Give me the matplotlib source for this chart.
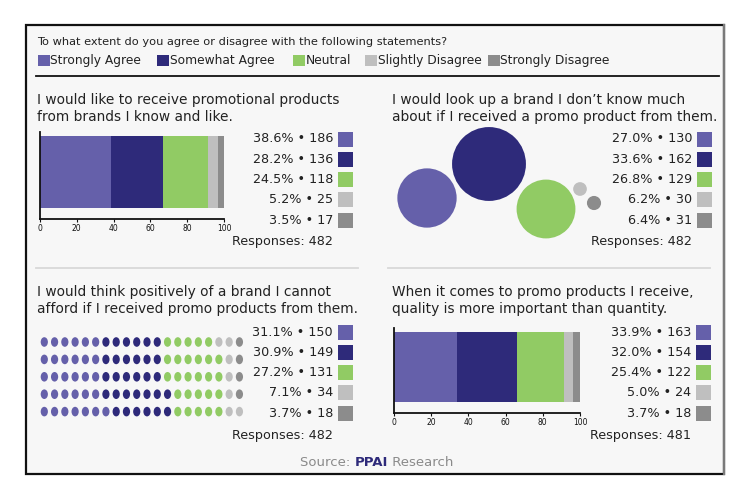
#%%
# Survey panels: four statements, five agreement levels
import matplotlib.pyplot as plt
from matplotlib.patches import Rectangle, Ellipse, Circle

plt.rcParams['font.family'] = ['DejaVu Sans']

# =============================================================================
# Data
# =============================================================================
categories = ['Strongly Agree', 'Somewhat Agree', 'Neutral',
              'Slightly Disagree', 'Strongly Disagree']
colors = ['#6560aa', '#2e2a7a', '#91cb64', '#bfbfbf', '#8c8c8c']

question = 'To what extent do you agree or disagree with the following statements?'

q1_title = ['I would like to receive promotional products',
            'from brands I know and like.']
q1_pct = [38.6, 28.2, 24.5, 5.2, 3.5]
q1_n = [186, 136, 118, 25, 17]
q1_total = 482

q2_title = ['I would look up a brand I don\u2019t know much',
            'about if I received a promo product from them.']
q2_pct = [27.0, 33.6, 26.8, 6.2, 6.4]
q2_n = [130, 162, 129, 30, 31]
q2_total = 482

q3_title = ['I would think positively of a brand I cannot',
            'afford if I received promo products from them.']
q3_pct = [31.1, 30.9, 27.2, 7.1, 3.7]
q3_n = [150, 149, 131, 34, 18]
q3_total = 482
# dots per row of the 5 x 20 grid, per category
q3_rows = [[6, 6, 5, 2, 1],
           [6, 6, 6, 1, 1],
           [6, 6, 6, 1, 1],
           [6, 7, 5, 1, 1],
           [7, 6, 5, 2, 0]]

q4_title = ['When it comes to promo products I receive,',
            'quality is more important than quantity.']
q4_pct = [33.9, 32.0, 25.4, 5.0, 3.7]
q4_n = [163, 154, 122, 24, 18]
q4_total = 481

tick_vals = [0, 20, 40, 60, 80, 100]

# bubble layout (pixel centres), radius follows the count
bubble_x = [427, 489, 546, 580, 594]
bubble_y = [198, 164, 209, 189, 203]

#%%
# =============================================================================
# Figure helpers (everything laid out in pixels, y down)
# =============================================================================
W, H = 750, 500
fig = plt.figure(figsize=(W / 100, H / 100), dpi=100)
TXT = '#222222'


def px_axes(x0, y0, x1, y1):
    ax = fig.add_axes([x0 / W, 1 - y1 / H, (x1 - x0) / W, (y1 - y0) / H])
    ax.set_facecolor('none')
    return ax


ov = fig.add_axes([0, 0, 1, 1])
ov.set_xlim(0, W)
ov.set_ylim(H, 0)
ov.axis('off')

# frame
ov.add_patch(Rectangle((26, 25), 698, 449, fc='#f7f7f7', ec='#111111', lw=1.6))
ov.plot([724, 724], [25, 474], color='#7a7a7a', lw=1.6)

# header + legend
ov.text(37, 42, question, fontsize=8.2, va='center', color=TXT)
leg_x = [38, 157, 293, 365, 488]
for x, c, lab in zip(leg_x, colors, categories):
    ov.add_patch(Rectangle((x, 54.5), 11.5, 11.5, color=c, lw=0))
    ov.text(x + 12.5, 60.5, lab, fontsize=8.8, va='center', color=TXT)
ov.plot([36, 719], [76, 76], color='#111111', lw=1.3)

# separators between rows of panels
ov.plot([36, 358], [268, 268], color='#d8d8d8', lw=1.3)
ov.plot([388, 710], [268, 268], color='#d8d8d8', lw=1.3)


def title(x, y, lines):
    for i, line in enumerate(lines):
        ov.text(x, y + i * 17, line, fontsize=9.9, va='center', color=TXT)


def value_legend(xr, y0, pct, n, total, y_resp):
    for i in range(len(pct)):
        y = y0 + i * 20.3
        ov.text(xr, y, f'{pct[i]:.1f}% \u2022 {n[i]}', ha='right',
                va='center', fontsize=9.2, color=TXT)
        ov.add_patch(Rectangle((xr + 5, y - 7.5), 15, 15, color=colors[i], lw=0))
    ov.text(xr, y_resp, f'Responses: {total}', ha='right', va='center',
            fontsize=9.2, color=TXT)


def stacked_bar(x0, y0, x1, y1, pct):
    ax = px_axes(x0, y0, x1, y1)
    left = 0
    for p, c in zip(pct, colors):
        ax.barh(0.54, p, left=left, height=0.82, color=c, lw=0)
        left += p
    ax.set_xlim(0, 100)
    ax.set_ylim(0, 1)
    for s in ['top', 'right']:
        ax.spines[s].set_visible(False)
    for s in ['left', 'bottom']:
        ax.spines[s].set_linewidth(1.3)
        ax.spines[s].set_color('#111111')
    ax.set_yticks([])
    ax.set_xticks(tick_vals)
    ax.tick_params(axis='x', labelsize=5.5, length=2.5, width=0.8, pad=1,
                   colors='#111111')
    return ax


#%%
# =============================================================================
# Panel 1: stacked bar
# =============================================================================
title(37, 100, q1_title)
stacked_bar(40, 132, 224, 219, q1_pct)
value_legend(333, 139, q1_pct, q1_n, q1_total, 241)

# Panel 2: bubbles
title(392, 100, q2_title)
bax = px_axes(380, 118, 620, 258)
bax.set_xlim(380, 620)
bax.set_ylim(258, 118)
bax.axis('off')
for bx, by, n, c in zip(bubble_x, bubble_y, q2_n, colors):
    bax.add_patch(Circle((bx, by), n * 0.228, color=c, lw=0))
value_legend(692, 139, q2_pct, q2_n, q2_total, 241)

# Panel 3: dot grid
title(37, 292, q3_title)
dax = px_axes(34, 330, 252, 424)
dax.set_xlim(34, 252)
dax.set_ylim(424, 330)
dax.axis('off')
for r, row in enumerate(q3_rows):
    col = 0
    for k, cnt in enumerate(row):
        for _ in range(cnt):
            dax.add_patch(Ellipse((44.3 + col * 10.27, 342 + r * 17.4), 7.2, 9.6,
                                  color=colors[k], lw=0))
            col += 1
value_legend(333, 332, q3_pct, q3_n, q3_total, 435)

# Panel 4: stacked bar
title(392, 292, q4_title)
stacked_bar(394, 328, 580, 413, q4_pct)
value_legend(691, 332, q4_pct, q4_n, q4_total, 435)

# source line
t1 = ov.text(300, 463, 'Source: ', fontsize=9.5, va='center', color='#8a8a8a')
t2 = ov.annotate('PPAI', xy=(1, 0), xycoords=t1, va='bottom', fontsize=9.5,
                 fontweight='bold', color='#2e2a7a')
ov.annotate(' Research', xy=(1, 0), xycoords=t2, va='bottom', fontsize=9.5,
            color='#8a8a8a')

fig.savefig('out.png', dpi=100, facecolor='white')
